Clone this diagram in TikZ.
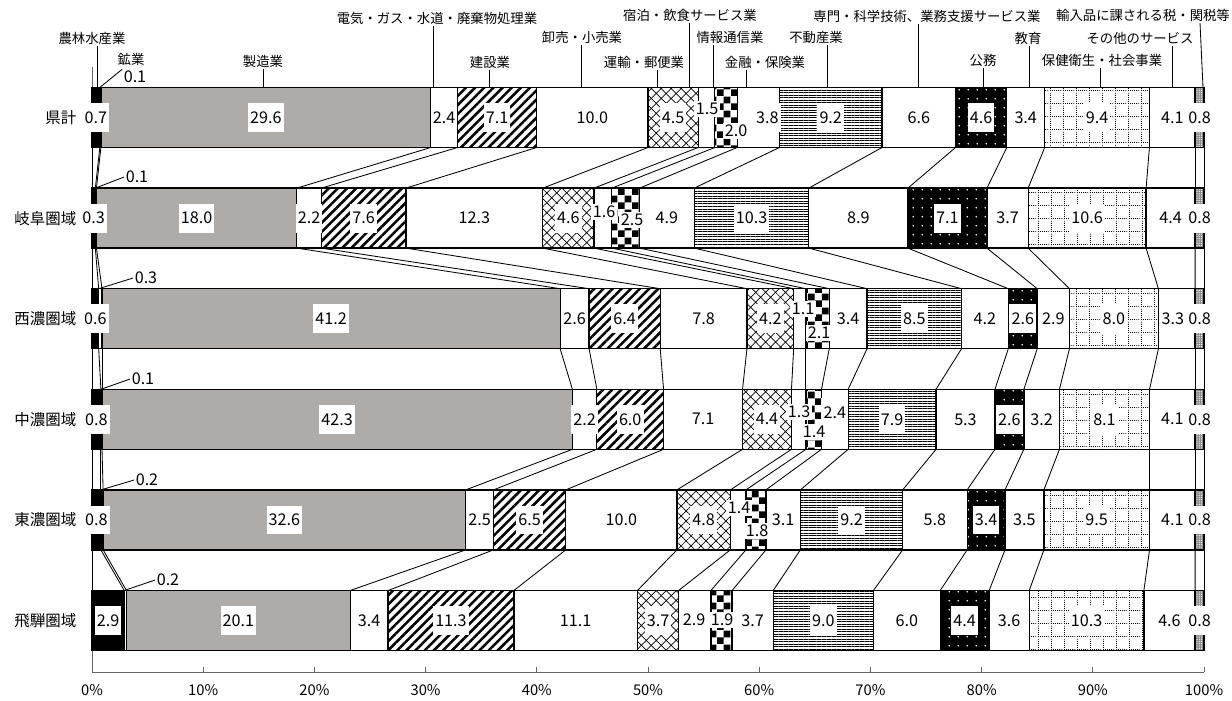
\documentclass[tikz,border=0pt]{standalone}
\usepackage{fontspec}
\setmainfont{Noto Sans CJK JP}
\usetikzlibrary{patterns,patterns.meta}

\pgfdeclarelayer{fg}
\pgfsetlayers{main,fg}

\definecolor{mfggray}{RGB}{174,171,169}

\pgfdeclarepatternformonly{bigchecker}{\pgfpointorigin}{\pgfpoint{10pt}{10pt}}{\pgfpoint{10pt}{10pt}}{%
  \pgfpathrectangle{\pgfpointorigin}{\pgfpoint{5pt}{5pt}}%
  \pgfpathrectangle{\pgfpoint{5pt}{5pt}}{\pgfpoint{5pt}{5pt}}%
  \pgfusepath{fill}}

\pgfdeclarepatternformonly{dotgrid}{\pgfpointorigin}{\pgfpoint{9pt}{9pt}}{\pgfpoint{9pt}{9pt}}{%
  \foreach \kk in {0,1.5,...,7.5}{%
    \pgfpathrectangle{\pgfpoint{\kk pt}{0pt}}{\pgfpoint{0.6pt}{0.6pt}}%
    \pgfpathrectangle{\pgfpoint{0pt}{\kk pt}}{\pgfpoint{0.6pt}{0.6pt}}%
    \pgfusepath{fill}}}

\tikzset{
  seg/.style={draw=black, line width=0.9pt},
  conn/.style={black, line width=0.6pt},
  lead/.style={black, line width=0.6pt},
  val/.style={fill=white, inner xsep=1.5pt, inner ysep=0pt, minimum height=0.72cm, font=\fontsize{11.5}{13}\selectfont},
  sval/.style={fill=white, inner xsep=1pt, inner ysep=1.5pt, font=\fontsize{11.5}{13}\selectfont},
  mval/.style={inner sep=1pt, font=\fontsize{11.5}{13}\selectfont},
  catlab/.style={inner sep=1pt, font=\fontsize{9.5}{11}\selectfont},
  region/.style={anchor=east, inner sep=1pt, font=\fontsize{11}{13}\selectfont},
  ticklab/.style={font=\fontsize{10.5}{12}\selectfont},
  c1/.style={fill=black},
  c2/.style={fill=white},
  c3/.style={fill=mfggray},
  c4/.style={fill=white},
  c5/.style={preaction={fill=white}, pattern={Lines[angle=45,distance=4.6pt,line width=1.8pt]}},
  c6/.style={fill=white},
  c7/.style={preaction={fill=white}, pattern={Hatch[angle=45,distance=5pt,line width=0.5pt]}},
  c8/.style={fill=white},
  c9/.style={preaction={fill=white}, pattern=bigchecker},
  c10/.style={fill=white},
  c11/.style={preaction={fill=white}, pattern={Lines[angle=0,distance=1.8pt,line width=0.6pt]}},
  c12/.style={fill=white},
  c13/.style={preaction={fill=black}, pattern={Dots[distance=6.5pt,radius=0.7pt]}, pattern color=white},
  c14/.style={fill=white},
  c15/.style={preaction={fill=white}, pattern=dotgrid},
  c16/.style={fill=white},
  c17/.style={preaction={fill=black!45}, pattern={Dots[distance=1.6pt,radius=0.4pt]}, pattern color=white},
}

\begin{document}
\begin{tikzpicture}[x=0.025cm, y=-0.025cm]
\useasboundingbox (0,0) rectangle (1232,700);

% frame and axis
\draw[black!60, line width=0.6pt] (92,67) -- (92,672) -- (1204,672);
\foreach \p in {0,10,...,100}{
  \draw[black!60, line width=0.6pt] ({92+11.12*\p},672) -- ({92+11.12*\p},667);
  \node[ticklab] (tk\p) at ({92+11.12*\p},690) {\p\%};
}

% bars (fx/fy: shift of the finance label)
\foreach \rw/\regname/\fx/\fy/\vals in {
  1/県計/9/0/{0.7,0.1,29.6,2.4,7.1,10.0,4.5,1.5,2.0,3.8,9.2,6.6,4.6,3.4,9.4,4.1,0.8},
  2/岐阜圏域/0/0/{0.3,0.1,18.0,2.2,7.6,12.3,4.6,1.6,2.5,4.9,10.3,8.9,7.1,3.7,10.6,4.4,0.8},
  3/西濃圏域/0/0/{0.6,0.3,41.2,2.6,6.4,7.8,4.2,1.1,2.1,3.4,8.5,4.2,2.6,2.9,8.0,3.3,0.8},
  4/中濃圏域/0/-7/{0.8,0.1,42.3,2.2,6.0,7.1,4.4,1.3,1.4,2.4,7.9,5.3,2.6,3.2,8.1,4.1,0.8},
  5/東濃圏域/0/0/{0.8,0.2,32.6,2.5,6.5,10.0,4.8,1.4,1.8,3.1,9.2,5.8,3.4,3.5,9.5,4.1,0.8},
  6/飛騨圏域/0/0/{2.9,0.2,20.1,3.4,11.3,11.1,3.7,2.9,1.9,3.7,9.0,6.0,4.4,3.6,10.3,4.6,0.8}}{
  \pgfmathsetmacro\ytop{87.5+100.6*(\rw-1)}
  \pgfmathsetmacro\ybot{\ytop+60}
  \pgfmathsetmacro\ymid{\ytop+30}
  \xdef\tot{0}
  \foreach \val in \vals {\pgfmathsetmacro\rsum{\tot+\val}\xdef\tot{\rsum}}
  \xdef\acc{0}
  \coordinate (t\rw-0) at (92,\ytop);
  \coordinate (b\rw-0) at (92,\ybot);
  \foreach \val [count=\i] in \vals {
    \pgfmathsetmacro\xa{92+1112*(\acc/\tot)}
    \pgfmathsetmacro\sacc{\acc+\val}
    \xdef\acc{\sacc}
    \pgfmathsetmacro\xb{92+1112*(\acc/\tot)}
    \path[seg, c\i] (\xa,\ytop) rectangle (\xb,\ybot);
    \coordinate (t\rw-\i) at (\xb,\ytop);
    \coordinate (b\rw-\i) at (\xb,\ybot);
    \coordinate (m\rw-\i) at ({(\xa+\xb)/2},\ymid);
    \def\ox{0}\def\oy{0}
    \ifnum\i=10 \let\ox\fx \let\oy\fy \fi
    \ifnum\rw=3 \ifnum\i=16 \def\ox{-4}\fi\fi
    \ifnum\i=2 \else\ifnum\i=8 \else\ifnum\i=9 \else
      \begin{pgfonlayer}{fg}
        \node[val] (v\rw-\i) at ([shift={(\ox,\oy)}]m\rw-\i) {\val};
      \end{pgfonlayer}
    \fi\fi\fi
  }
  \node[region] (reg\rw) at (78,\ymid) {\regname};
}

% lines between the bars
\foreach \rw [evaluate=\rw as \nx using int(\rw+1)] in {1,...,5}{
  \foreach \i in {0,...,17}{
    \draw[conn] (b\rw-\i) -- (t\nx-\i);
  }
}

% small shares
\begin{pgfonlayer}{fg}
\node[sval] (v1-8) at (707,109) {1.5};
\node[sval] (v1-9) at (736,131) {2.0};
\node[sval] (v2-8) at (604,212) {1.6};
\node[sval] (v2-9) at (632,220) {2.5};
\node[sval] (v3-8) at (803,309) {1.1};
\node[sval] (v3-9) at (819,333) {2.1};
\node[sval] (v4-8) at (799,412) {1.3};
\node[sval] (v4-9) at (814,432) {1.4};
\node[sval] (v5-8) at (739,508) {1.4};
\node[sval] (v5-9) at (757,531) {1.8};
\node[sval] (v6-8) at (694,620) {2.9};
\node[sval] (v6-9) at (722,620) {1.9};
\end{pgfonlayer}

% mining
\foreach \rw/\lx/\ly/\txt in {1/135/77/0.1, 2/137/177/0.1, 3/146/278/0.3, 4/143/379/0.1, 5/147/480/0.2, 6/168/580/0.2}{
  \node[mval] (v\rw-2) at (\lx,\ly) {\txt};
}
\draw[lead] (t1-1) -- (v1-2.north west);
\foreach \rw in {2,...,6}{
  \draw[lead] (t\rw-1) -- (v\rw-2.west);
}

% industry names
\node[catlab] (l2) at (131,59) {鉱業};
\foreach \kk/\txt/\lx/\ly/\kx in {
  1/農林水産業/92/38/97,
  3/製造業/263/61/263,
  4/電気・ガス・水道・廃棄物処理業/437/18/433,
  5/建設業/490/62/489,
  6/卸売・小売業/582/37/581,
  7/運輸・郵便業/644/62/657,
  8/宿泊・飲食サービス業/690/15/689,
  9/情報通信業/730/37/713,
  10/金融・保険業/765/62/746,
  11/不動産業/816/37/827,
  12/専門・科学技術、業務支援サービス業/927/16/918,
  13/公務/983/60/983,
  14/教育/1028/38/1029,
  15/保健衛生・社会事業/1102/60/1100,
  16/その他のサービス/1140/38/1172}{
  \node[catlab] (l\kk) at (\lx,\ly) {\txt};
  \coordinate (k\kk) at (\kx,87.5);
  \draw[lead] (k\kk) -- (k\kk |- l\kk.south);
}
\node[catlab] (l17) at (1143,15) {輸入品に課される税・関税等};
\coordinate (k17) at (1203,87.5);
\coordinate (k17a) at (1200,23);
\draw[lead] (k17) -- (k17a);

\end{tikzpicture}
\end{document}
